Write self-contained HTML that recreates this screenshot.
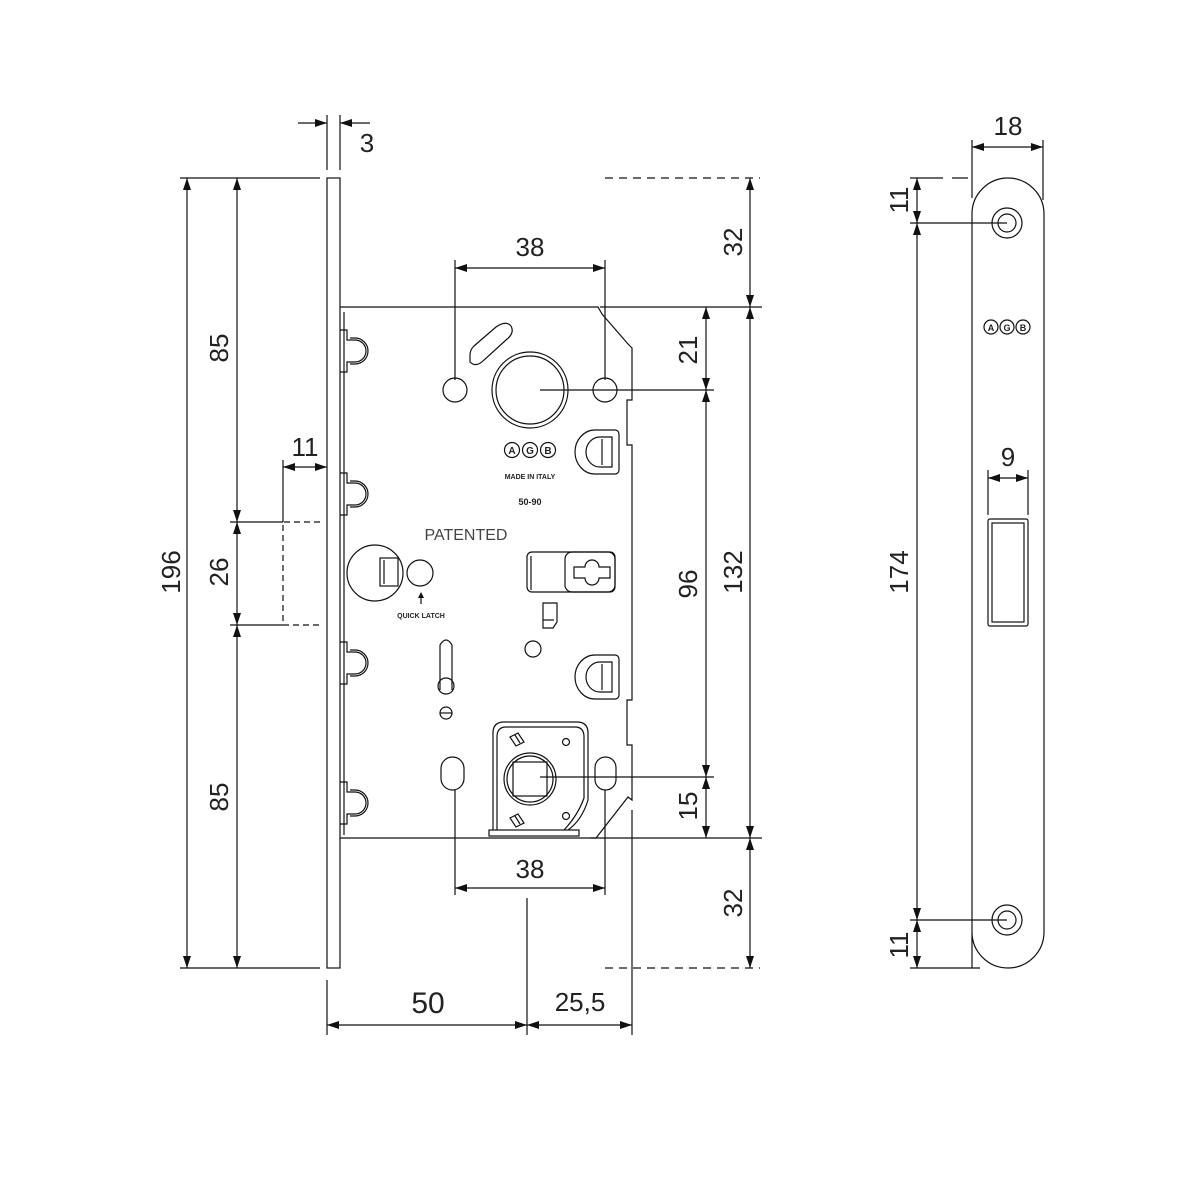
<!DOCTYPE html>
<html><head><meta charset="utf-8"><style>
html,body{margin:0;padding:0;background:#fff}
svg{display:block}
text{font-family:"Liberation Sans Narrow","Liberation Sans",sans-serif;fill:#222}
</style></head><body>
<svg width="1200" height="1200" viewBox="0 0 1200 1200" xmlns="http://www.w3.org/2000/svg">
<defs>
<marker id="a" viewBox="0 0 12 8" refX="12" refY="4" markerWidth="12" markerHeight="8" markerUnits="userSpaceOnUse" orient="auto-start-reverse"><path d="M0,0L12,4L0,8z" fill="#111"/></marker>
</defs>
<g stroke="#111" stroke-width="1.2" fill="none">
<!-- faceplate -->
<rect x="327" y="178" width="13" height="790"/>
<!-- lock body -->
<path d="M340,307 H598 L602,314 L628,344 L632,348 V400 H627 V445 H632 V700 H627 V745 H632 V800 L628,797 L596,838 H340"/>
<line x1="344" y1="312" x2="344" y2="835"/>
<!-- tabs -->
<g id="tab">
<path d="M340,330 H347 V340 H355 A11,11 0 0 1 355,362 H347 V372 H340"/>
<path d="M350,338 H355 A8,8 0 0 1 355,364 H350"/>
</g>
<use href="#tab" y="143"/><use href="#tab" y="312"/><use href="#tab" y="452"/>
<!-- top holes -->
<circle cx="455" cy="390" r="12"/><circle cx="605" cy="390" r="12"/>
<circle cx="530" cy="390" r="38"/><circle cx="530" cy="390" r="34"/>
<path d="M470,355 Q470,350 474,346 L496,327 Q506,320 511,326 Q515,333 506,340 L484,360 Q476,368 470,362 Z"/>
<!-- D loops -->
<g id="dl"><path d="M615,430 H595 A20,22 0 0 0 595,474 H615 A4,4 0 0 0 619,470 V434 A4,4 0 0 0 615,430Z"/><path d="M600,437 A14,15 0 0 0 600,467 H612 V437Z"/><line x1="602" y1="439" x2="602" y2="465"/></g>
<use href="#dl" y="225"/>
<!-- AGB -->
<g id="agb"><circle cx="512" cy="450" r="7.5"/><circle cx="530" cy="450" r="7.5"/><circle cx="548" cy="450" r="7.5"/></g>
<!-- quick latch -->
<circle cx="375" cy="573" r="28"/>
<rect x="380" y="558" width="18" height="28"/><line x1="384" y1="560" x2="384" y2="584"/>
<circle cx="420" cy="573" r="13"/>
<line x1="421" y1="604" x2="421" y2="594"/>
<!-- right block -->
<rect x="527" y="552" width="88" height="40" rx="5"/>
<rect x="565" y="552" width="50" height="40" rx="7"/>
<path d="M574,567 H585 A7,7 0 0 1 599,567 H610 V578 H599 A7,7 0 0 1 585,578 H574Z"/>
<line x1="531" y1="556" x2="531" y2="590"/>
<path d="M543,603 H557 V622 L553,628 H543Z"/><line x1="543" y1="620" x2="554" y2="620"/>
<circle cx="533" cy="649" r="8"/>
<!-- latch pin -->
<path d="M440,690 V645 Q446,635 452,645 V690"/><circle cx="446" cy="686" r="8"/>
<circle cx="446" cy="713" r="6"/><line x1="440" y1="713" x2="452" y2="713"/>
<!-- ovals -->
<rect x="441" y="757" width="23" height="33" rx="11.5"/>
<rect x="595" y="757" width="21" height="33" rx="10.5"/>
<!-- lower plate -->
<path d="M493,830 V733 Q493,722 504,722 H577 Q588,722 588,733 V800 Q582,820 568,830"/>
<path d="M497,830 V737 Q497,727 506,727 H575 Q584,727 584,737 V798 Q578,815 564,830"/>
<rect x="489" y="830" width="90" height="6"/>
<circle cx="530" cy="779" r="26"/><circle cx="530" cy="779" r="23"/>
<rect x="513" y="762" width="34" height="34"/>
<circle cx="566" cy="742" r="3.5"/><circle cx="566" cy="816" r="3.5"/>
<path d="M510,737 l8,-4 l6,9 l-8,4z M515,735 l5,8"/>
<path d="M510,818 l8,-4 l6,9 l-8,4z M515,816 l5,8"/>
<!-- dashed box -->
<path d="M320,522 H283 V625 H320" stroke-dasharray="6,4"/>
<!-- extension lines -->
<path d="M180,178 H320 M180,968 H320 M230,522 H283 M230,625 H283 M283,460 V522"/>
<path d="M327,115 V170 M340,115 V170"/>
<path d="M455,260 V380 M605,260 V380"/>
<path d="M605,178 H760 M605,968 H760" stroke-dasharray="8,6"/>
<path d="M600,307 H762 M540,390 H714 M540,777 H714 M590,838 H762"/>
<path d="M455,790 V895 M605,790 V895"/>
<path d="M327,980 V1035 M527,898 V1035 M632,810 V1035"/>
<!-- strike plate -->
<path d="M972,968 V214 A36,36 0 0 1 1044,214 V932 A36,36 0 0 1 972,932"/>
<circle cx="1007" cy="223" r="15"/><circle cx="1007" cy="223" r="9"/>
<circle cx="1007" cy="920" r="15"/><circle cx="1007" cy="920" r="9"/>
<circle cx="991" cy="327" r="7"/><circle cx="1007" cy="327" r="7"/><circle cx="1023" cy="327" r="7"/>
<rect x="988" y="519" width="40" height="107" rx="2"/>
<rect x="992" y="523" width="32" height="99"/>
<path d="M972,140 V198 M1043,140 V200 M988,470 V515 M1028,470 V515"/>
<path d="M910,178 H943 M952,178 H968 M910,223 H1007 M910,920 H1007 M910,968 H980"/>
<!-- dim lines with arrows -->
<g marker-start="url(#a)" marker-end="url(#a)">
<line x1="187" y1="178" x2="187" y2="968"/>
<line x1="237" y1="178" x2="237" y2="522"/>
<line x1="237" y1="522" x2="237" y2="625"/>
<line x1="237" y1="625" x2="237" y2="968"/>
<line x1="283" y1="467" x2="327" y2="467"/>
<line x1="455" y1="268" x2="605" y2="268"/>
<line x1="455" y1="888" x2="605" y2="888"/>
<line x1="327" y1="1025" x2="527" y2="1025"/>
<line x1="527" y1="1025" x2="632" y2="1025"/>
<line x1="750" y1="178" x2="750" y2="307"/>
<line x1="750" y1="307" x2="750" y2="838"/>
<line x1="750" y1="838" x2="750" y2="968"/>
<line x1="706" y1="307" x2="706" y2="390"/>
<line x1="706" y1="390" x2="706" y2="777"/>
<line x1="706" y1="777" x2="706" y2="838"/>
<line x1="972" y1="147" x2="1043" y2="147"/>
<line x1="988" y1="478" x2="1028" y2="478"/>
<line x1="917" y1="178" x2="917" y2="223"/>
<line x1="917" y1="223" x2="917" y2="920"/>
<line x1="917" y1="920" x2="917" y2="968"/>
</g>
<line x1="298" y1="123" x2="327" y2="123" marker-end="url(#a)"/>
<line x1="370" y1="123" x2="340" y2="123" marker-end="url(#a)"/>
</g>
<path d="M421,592 l-3,6 h6z" fill="#111"/>
<!-- texts -->
<g font-size="26" text-anchor="middle">
<text x="367" y="152">3</text>
<text x="530" y="256">38</text>
<text x="530" y="878">38</text>
<text x="428" y="1013" font-size="30">50</text>
<text x="580" y="1011">25,5</text>
<text x="305" y="456">11</text>
<text x="1008" y="135">18</text>
<text x="1008" y="466">9</text>
<text transform="translate(180,572) rotate(-90)">196</text>
<text transform="translate(228,348) rotate(-90)">85</text>
<text transform="translate(228,572) rotate(-90)">26</text>
<text transform="translate(228,797) rotate(-90)">85</text>
<text transform="translate(742,242) rotate(-90)">32</text>
<text transform="translate(742,572) rotate(-90)">132</text>
<text transform="translate(742,903) rotate(-90)">32</text>
<text transform="translate(697,350) rotate(-90)">21</text>
<text transform="translate(697,584) rotate(-90)">96</text>
<text transform="translate(697,806) rotate(-90)">15</text>
<text transform="translate(908,200) rotate(-90)">11</text>
<text transform="translate(908,572) rotate(-90)">174</text>
<text transform="translate(908,945) rotate(-90)">11</text>
</g>
<g font-family="Liberation Sans,sans-serif" text-anchor="middle" font-weight="bold">
<text x="512" y="454" font-size="10" style="font-family:'Liberation Sans',sans-serif">A</text>
<text x="530" y="454" font-size="10" style="font-family:'Liberation Sans',sans-serif">G</text>
<text x="548" y="454" font-size="10" style="font-family:'Liberation Sans',sans-serif">B</text>
<text x="530" y="479" font-size="7" style="font-family:'Liberation Sans',sans-serif">MADE IN ITALY</text>
<text x="530" y="505" font-size="9" style="font-family:'Liberation Sans',sans-serif">50-90</text>
<text x="421" y="618" font-size="7" style="font-family:'Liberation Sans',sans-serif">QUICK LATCH</text>
<text x="991" y="331" font-size="9" style="font-family:'Liberation Sans',sans-serif">A</text>
<text x="1007" y="331" font-size="9" style="font-family:'Liberation Sans',sans-serif">G</text>
<text x="1023" y="331" font-size="9" style="font-family:'Liberation Sans',sans-serif">B</text>
</g>
<text x="466" y="540" font-size="16" text-anchor="middle" style="font-family:'Liberation Sans',sans-serif;fill:#444">PATENTED</text>
</svg>
</body></html>
